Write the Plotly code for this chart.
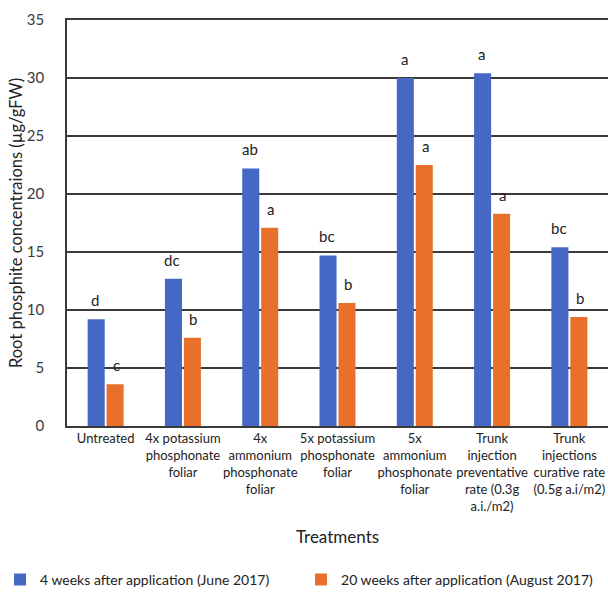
import plotly.graph_objects as go

treatments = [
    "Untreated",
    "4x potassium<br>phosphonate<br>foliar",
    "4x<br>ammonium<br>phosphonate<br>foliar",
    "5x potassium<br>phosphonate<br>foliar",
    "5x<br>ammonium<br>phosphonate<br>foliar",
    "Trunk<br>injection<br>preventative<br>rate (0.3g<br>a.i./m2)",
    "Trunk<br>injections<br>curative rate<br>(0.5g a.i/m2)",
]
june_values = [9.2, 12.7, 22.2, 14.7, 30.0, 30.4, 15.4]
august_values = [3.6, 7.6, 17.1, 10.6, 22.5, 18.3, 9.4]
june_letters = ["d", "dc", "ab", "bc", "a", "a", "bc"]
august_letters = ["c", "b", "a", "b", "a", "a", "b"]

series_names = [
    "4 weeks after application (June 2017)",
    "20 weeks after application (August 2017)",
]
BLUE = "#4468C4"
ORANGE = "#E8702A"
FONT = "Lato, Open Sans, sans-serif"
INK = "#3a3a3a"

fig = go.Figure()
fig.add_trace(go.Bar(x=treatments, y=june_values, name=series_names[0],
                     marker=dict(color=BLUE, line=dict(width=0))))
fig.add_trace(go.Bar(x=treatments, y=august_values, name=series_names[1],
                     marker=dict(color=ORANGE, line=dict(width=0))))

# significance letters above each bar
for vals, letters, shift in ((june_values, june_letters, -10.5),
                             (august_values, august_letters, 10.5)):
    for cat, v, t in zip(treatments, vals, letters):
        fig.add_annotation(x=cat, y=v, text=t, showarrow=False, xref="x", yref="y",
                           xshift=shift, yshift=8, yanchor="bottom",
                           font=dict(family=FONT, size=15, color="#222"))

fig.update_layout(
    width=608, height=594,
    margin=dict(l=67, r=0, t=20, b=168, autoexpand=False),
    paper_bgcolor="white", plot_bgcolor="white",
    barmode="group", bargap=0.51, bargroupgap=0.1,
    font=dict(family=FONT, color=INK),
    showlegend=True,
    legend=dict(orientation="h", x=-0.1238, xanchor="left", y=-0.379, yanchor="middle",
                font=dict(size=14, color="#222"), itemwidth=30,
                entrywidth=256, entrywidthmode="pixels",
                tracegroupgap=0, borderwidth=0, bgcolor="rgba(0,0,0,0)"),
)
fig.update_xaxes(
    automargin=False,
    showline=True, linecolor=INK, linewidth=1.6, mirror=True,
    showgrid=False, ticks="", tickfont=dict(size=13, color="#222"),
    title=dict(text="Treatments", font=dict(size=17, color="#222"), standoff=18),
)
fig.update_yaxes(
    automargin=False,
    range=[0, 35], dtick=5, showline=True, linecolor=INK, linewidth=1.6,
    showgrid=True, gridcolor=INK, gridwidth=1.5, zeroline=False,
    ticks="", tickfont=dict(size=15, color=INK), ticklabelstandoff=18,
    title=dict(text="Root phosphite concentraions (µg/gFW)",
               font=dict(size=16.5, color="#222"), standoff=0),
)

fig.write_html("out.html")
